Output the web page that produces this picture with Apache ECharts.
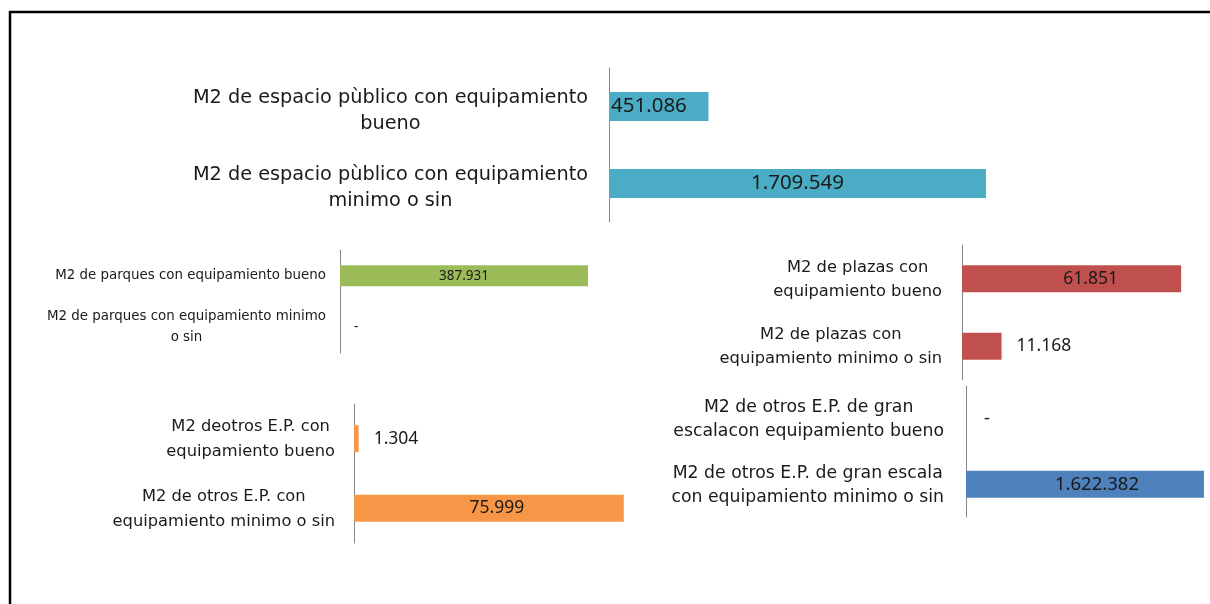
<!DOCTYPE html>
<html>
<head>
<meta charset="utf-8">
<script src="https://cdn.jsdelivr.net/npm/echarts@6/dist/echarts.min.js"></script>
<style>
  html, body { margin: 0; padding: 0; background: #fff; }
  #main { width: 1210px; height: 604px; }
</style>
</head>
<body>
<div id="main"></div>
<script>
var myChart = echarts.init(document.getElementById("main"));

// categories and values of each panel (m2)
var espacioCats = ["M2 de espacio pùblico con equipamiento\nbueno", "M2 de espacio pùblico con equipamiento\nminimo o sin"];
var espacioVals = [451086, 1709549];

var parquesCats = ["M2 de parques con equipamiento bueno", "M2 de parques con equipamiento minimo\no sin"];
var parquesVals = [387931, 0];

var plazasCats = ["M2 de plazas con\nequipamiento bueno", "M2 de plazas con\nequipamiento minimo o sin"];
var plazasVals = [61851, 11168];

var otrosCats = ["M2 deotros E.P. con\nequipamiento bueno", "M2 de otros E.P. con\nequipamiento minimo o sin"];
var otrosVals = [1304, 75999];

var granCats = ["M2 de otros E.P. de gran\nescalacon equipamiento bueno", "M2 de otros E.P. de gran escala\ncon equipamiento minimo o sin"];
var granVals = [0, 1622382];

var CAT_FONT = "DejaVu Sans";
var VAL_FONT = "Noto Sans";
var TXT = "#1a1a1a";

function fmt(v) {
  if (v === 0) return "-";
  return String(v).replace(/\B(?=(\d{3})+(?!\d))/g, ".");
}

// panel layout: grid box, axis max, bar width, fonts, label placement per bar
var panels = [
  { cats: espacioCats, vals: espacioVals, color: "#4BACC6", left: 609, top: 68, height: 154, width: 441, max: 2000000,
    barWidth: 29, catSize: 19.3, lineHeight: 26, margin: 21, pad: [8, 0, 0, 0], valSize: 20.5,
    labels: [{ position: "insideLeft", distance: 2 }, { position: "inside" }] },
  { cats: parquesCats, vals: parquesVals, color: "#9BBB59", left: 340, top: 250, height: 103, width: 255.7, max: 400000,
    barWidth: 21, catSize: 13.4, lineHeight: 21, margin: 14, pad: [0, 0, 0, 0], valSize: 13.5,
    labels: [{ position: "inside" }, { position: "right", distance: 14 }] },
  { cats: plazasCats, vals: plazasVals, color: "#C0504D", left: 962, top: 245, height: 135, width: 249, max: 70000,
    barWidth: 27, catSize: 16.3, lineHeight: 24, margin: 20, pad: [2, 0, 0, 0], valSize: 17.5,
    labels: [{ position: "inside", offset: [19, 0] }, { position: "right", distance: 15 }] },
  { cats: otrosCats, vals: otrosVals, color: "#F79646", left: 354, top: 404, height: 139, width: 284, max: 80000,
    barWidth: 27, catSize: 16.3, lineHeight: 25, margin: 19, pad: [2, 0, 0, 0], valSize: 17.5,
    labels: [{ position: "right", distance: 15 }, { position: "inside", offset: [8, 0] }] },
  { cats: granCats, vals: granVals, color: "#4F81BD", left: 966, top: 386, height: 131, width: 242, max: 1650000,
    barWidth: 27, catSize: 17.3, lineHeight: 24, margin: 22, pad: [2, 0, 0, 0], valSize: 18.5,
    labels: [{ position: "right", distance: 18 }, { position: "inside", offset: [12, 0] }] }
];

var grids = [], xAxes = [], yAxes = [], series = [];
panels.forEach(function (p, k) {
  grids.push({ left: p.left, top: p.top, width: p.width, height: p.height });
  xAxes.push({ type: "value", gridIndex: k, min: 0, max: p.max, show: false });
  yAxes.push({
    type: "category", gridIndex: k, inverse: true, data: p.cats,
    axisLine: { show: true, lineStyle: { color: "#868686", width: 1 } },
    axisTick: { show: false },
    splitLine: { show: false },
    axisLabel: {
      margin: p.margin,
      align: "right",
      padding: p.pad,
      formatter: function (v) {
        return v.split("\n").map(function (l) { return "{c|" + l + "}"; }).join("\n");
      },
      rich: { c: { align: "center", fontFamily: CAT_FONT, fontSize: p.catSize, lineHeight: p.lineHeight, color: TXT } }
    }
  });
  series.push({
    type: "bar", xAxisIndex: k, yAxisIndex: k, barWidth: p.barWidth,
    itemStyle: { color: p.color },
    silent: true,
    data: p.vals.map(function (v, i) {
      var l = p.labels[i];
      return {
        value: v,
        label: {
          show: true, position: l.position, distance: l.distance || 5, offset: l.offset || [0, 0],
          formatter: function (d) { return fmt(d.value); },
          fontFamily: VAL_FONT, fontSize: p.valSize, color: TXT
        }
      };
    })
  });
});

option = {
  animation: false,
  backgroundColor: "#fff",
  grid: grids,
  xAxis: xAxes,
  yAxis: yAxes,
  series: series,
  graphic: [{
    type: "rect", silent: true,
    shape: { x: 10, y: 12, width: 1202, height: 700 },
    style: { fill: "none", stroke: "#000", lineWidth: 2.5 }
  }]
};

myChart.setOption(option);
</script>
</body>
</html>
